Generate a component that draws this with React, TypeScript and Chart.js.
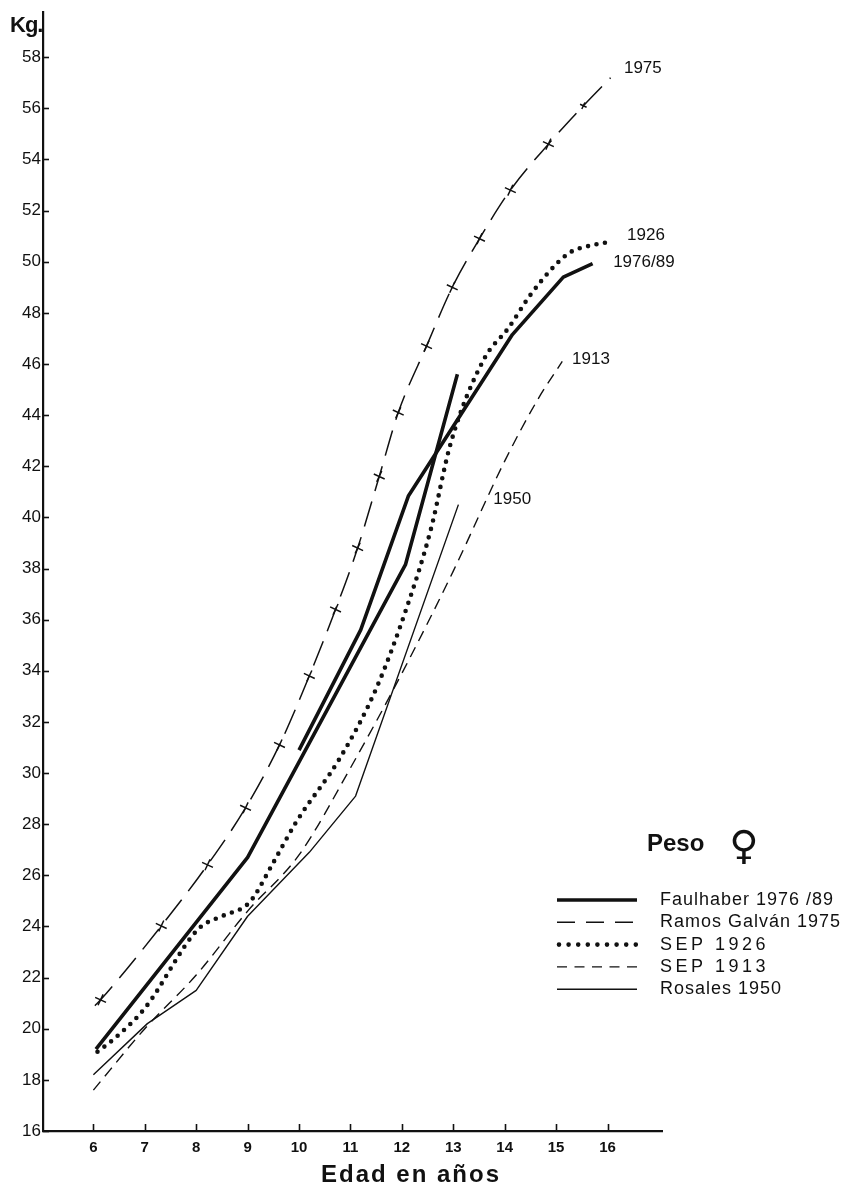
import React, { useEffect, useRef } from 'react';
import { Chart, registerables } from 'chart.js';

Chart.register(...registerables);

// ---- data ----
const AGE_TICKS = [6, 7, 8, 9, 10, 11, 12, 13, 14, 15, 16];
const KG_TICKS = [16, 18, 20, 22, 24, 26, 28, 30, 32, 34, 36, 38, 40, 42, 44, 46, 48, 50, 52, 54, 56, 58];

const FAULHABER_A_AGE = [6.05, 9.0, 12.07, 13.08];
const FAULHABER_A_KG = [19.2, 26.7, 38.15, 45.6];
const FAULHABER_B_AGE = [10.0, 11.2, 12.13, 14.15, 15.14, 15.71];
const FAULHABER_B_KG = [30.9, 35.6, 40.85, 47.15, 49.4, 49.93];

const RAMOS_AGE = [6.03, 6.14, 7.32, 8.22, 8.96, 9.62, 10.2, 10.71, 11.14, 11.56, 11.93, 12.48, 12.98, 13.51, 14.11, 14.85, 15.53, 16.06];
const RAMOS_KG = [20.9, 21.13, 24.02, 26.41, 28.64, 31.1, 33.8, 36.4, 38.8, 41.6, 44.1, 46.7, 49.0, 50.9, 52.8, 54.6, 56.1, 57.2];
const RAMOS_MARK = [0, 1, 1, 1, 1, 1, 1, 1, 1, 1, 1, 1, 1, 1, 1, 1, 0.6, 0];

const SEP1926_AGE = [6.08, 6.4, 7.0, 8.04, 8.5, 8.96, 9.1, 9.5, 9.95, 10.8, 11.5, 12.1, 12.56, 12.95, 13.6, 14.07, 14.5, 15.0, 15.3, 15.6, 16.1];
const SEP1926_KG = [19.1, 19.6, 20.8, 23.9, 24.4, 24.8, 25.1, 26.5, 28.1, 30.6, 33.3, 36.5, 39.5, 42.9, 46.2, 47.4, 48.7, 49.9, 50.4, 50.6, 50.8];

const SEP1913_AGE = [6.0, 7.0, 8.0, 9.0, 10.0, 11.0, 12.0, 13.0, 14.0, 14.64, 15.12];
const SEP1913_KG = [17.6, 20.0, 22.1, 24.6, 26.8, 30.2, 33.9, 37.9, 42.2, 44.6, 46.1];

const ROSALES_AGE = [6.0, 7.05, 8.0, 9.0, 10.2, 11.1, 13.1];
const ROSALES_KG = [18.2, 20.2, 21.5, 24.4, 26.9, 29.1, 40.5];

const SERIES_NAMES = ['Faulhaber 1976 /89', 'Ramos Galván 1975', 'SEP 1926', 'SEP 1913', 'Rosales 1950'];

const END_LABELS = ['1975', '1926', '1976/89', '1913', '1950'];
const END_LABEL_AGE = [16.32, 16.38, 16.11, 15.31, 13.78];
const END_LABEL_KG = [57.57, 51.03, 49.97, 46.18, 40.7];

const Y_TITLE = 'Kg.';
const X_TITLE = 'Edad en años';
const LEGEND_TITLE = 'Peso';
const LEGEND_SYMBOL = '♀';

// ---- styles ----
const INK = '#111111';
const STYLES = [
  { width: 3.6, dash: [] as number[], cap: 'butt' },
  { width: 1.5, dash: [26, 11], cap: 'butt' },
  { width: 4.6, dash: [0, 8.6], cap: 'round' },
  { width: 1.4, dash: [11, 7], cap: 'butt' },
  { width: 1.4, dash: [] as number[], cap: 'butt' },
];

const pts = (xs: number[], ys: number[]) => xs.map((x, i) => ({ x, y: ys[i] }));

function lineDataset(label: string, data: any[], s: any, extra: any = {}) {
  return {
    label,
    data,
    borderColor: INK,
    backgroundColor: INK,
    borderWidth: s.width,
    borderDash: s.dash,
    borderCapStyle: s.cap,
    borderJoinStyle: 'round',
    pointRadius: 0,
    tension: 0,
    fill: false,
    ...extra,
  };
}

const decorPlugin = {
  id: 'decor',
  afterDraw(chart: any) {
    const { ctx, chartArea } = chart;
    const xs = chart.scales.x;
    const ys = chart.scales.y;
    ctx.save();
    ctx.strokeStyle = INK;
    ctx.fillStyle = INK;
    // inner tick marks
    ctx.lineWidth = 1.6;
    ctx.setLineDash([]);
    KG_TICKS.forEach((v) => {
      const py = Math.round(ys.getPixelForValue(v)) + 0.5;
      ctx.beginPath();
      ctx.moveTo(chartArea.left, py);
      ctx.lineTo(chartArea.left + 6, py);
      ctx.stroke();
    });
    AGE_TICKS.forEach((v) => {
      const px = Math.round(xs.getPixelForValue(v)) + 0.5;
      ctx.beginPath();
      ctx.moveTo(px, chartArea.bottom);
      ctx.lineTo(px, chartArea.bottom - 7);
      ctx.stroke();
    });

    // curve-end labels
    ctx.font = '17px "Liberation Sans", Arial, sans-serif';
    ctx.textAlign = 'left';
    ctx.textBaseline = 'middle';
    END_LABELS.forEach((t, i) => {
      ctx.fillText(t, xs.getPixelForValue(END_LABEL_AGE[i]), ys.getPixelForValue(END_LABEL_KG[i]));
    });

    // axis titles
    ctx.font = 'bold 22px "Liberation Sans", Arial, sans-serif';
    (ctx as any).letterSpacing = '-1px';
    ctx.textAlign = 'left';
    ctx.fillText(Y_TITLE, 10, 26);
    (ctx as any).letterSpacing = '0px';
    ctx.font = 'bold 24px "Liberation Sans", Arial, sans-serif';
    (ctx as any).letterSpacing = '2px';
    ctx.textAlign = 'center';
    ctx.fillText(X_TITLE, 411, 1175);
    (ctx as any).letterSpacing = '0px';

    // legend
    ctx.textAlign = 'left';
    ctx.font = 'bold 24px "Liberation Sans", Arial, sans-serif';
    ctx.fillText(LEGEND_TITLE, 647, 844);
    ctx.font = '40px "DejaVu Sans", sans-serif';
    ctx.textAlign = 'center';
    ctx.fillText(LEGEND_SYMBOL, 744, 849);

    ctx.textAlign = 'left';
    SERIES_NAMES.forEach((name, i) => {
      const s = STYLES[i];
      const y = 900 + i * 22.3;
      ctx.beginPath();
      ctx.lineWidth = s.width;
      ctx.lineCap = s.cap;
      ctx.setLineDash(i === 2 ? [0, 9.6] : i === 1 ? [18, 11] : i === 3 ? [10, 7.5] : s.dash);
      ctx.moveTo(i === 2 ? 559 : 557, y);
      ctx.lineTo(637, y);
      ctx.stroke();
      ctx.setLineDash([]);
      ctx.lineCap = 'butt';
      ctx.font = '18px "Liberation Sans", Arial, sans-serif';
      (ctx as any).letterSpacing = i === 2 || i === 3 ? '3.5px' : '1px';
      ctx.fillText(name, 660, y);
      (ctx as any).letterSpacing = '0px';
    });
    ctx.restore();
  },
};

export default function App() {
  const ref = useRef<HTMLCanvasElement | null>(null);
  useEffect(() => {
    if (!ref.current) return;
    const chart = new Chart(ref.current, {
      type: 'line',
      data: {
        datasets: [
          lineDataset(SERIES_NAMES[0], pts(FAULHABER_A_AGE, FAULHABER_A_KG), STYLES[0]),
          lineDataset(SERIES_NAMES[0], pts(FAULHABER_B_AGE, FAULHABER_B_KG), STYLES[0]),
          lineDataset(SERIES_NAMES[1], pts(RAMOS_AGE, RAMOS_KG), STYLES[1], {
            cubicInterpolationMode: 'monotone',
            pointStyle: 'cross',
            pointRadius: RAMOS_MARK.map((m) => m * 6),
            pointBorderWidth: 1.5,
            pointRotation: 25,
            pointBorderColor: INK,
          }),
          lineDataset(SERIES_NAMES[2], pts(SEP1926_AGE, SEP1926_KG), STYLES[2], { cubicInterpolationMode: 'monotone' }),
          lineDataset(SERIES_NAMES[3], pts(SEP1913_AGE, SEP1913_KG), STYLES[3], { cubicInterpolationMode: 'monotone' }),
          lineDataset(SERIES_NAMES[4], pts(ROSALES_AGE, ROSALES_KG), STYLES[4]),
        ] as any,
      },
      options: {
        animation: false,
        responsive: false,
        devicePixelRatio: 1,
        layout: { padding: { left: 0, top: 10, right: 187, bottom: 0 } },
        plugins: { legend: { display: false }, tooltip: { enabled: false } },
        scales: {
          x: {
            type: 'linear',
            min: 5.02,
            max: 17.06,
            afterFit: (s: any) => { s.height = 57; },
            afterBuildTicks: (s: any) => { s.ticks = AGE_TICKS.map((v) => ({ value: v })); },
            grid: { display: false, drawTicks: false },
            border: { display: true, color: INK, width: 2.2 },
            ticks: {
              color: INK,
              padding: 8,
              maxRotation: 0,
              autoSkip: false,
              font: { family: '"Liberation Sans", Arial, sans-serif', size: 15, weight: 'bold' },
            },
          },
          y: {
            type: 'linear',
            min: 16,
            max: 59.76,
            afterFit: (s: any) => { s.width = 43; },
            afterBuildTicks: (s: any) => { s.ticks = KG_TICKS.map((v) => ({ value: v })); },
            grid: { display: false, drawTicks: false },
            border: { display: true, color: INK, width: 2.2 },
            ticks: {
              color: INK,
              padding: 2,
              autoSkip: false,
              font: { family: '"Liberation Sans", Arial, sans-serif', size: 17 },
            },
          },
        },
      } as any,
      plugins: [decorPlugin],
    });
    return () => chart.destroy();
  }, []);
  return (
    <div style={{ position: 'absolute', left: 0, top: 0, width: 849, height: 1188, background: '#fff' }}>
      <canvas ref={ref} width={849} height={1188} style={{ display: 'block', width: 849, height: 1188 }} />
    </div>
  );
}
